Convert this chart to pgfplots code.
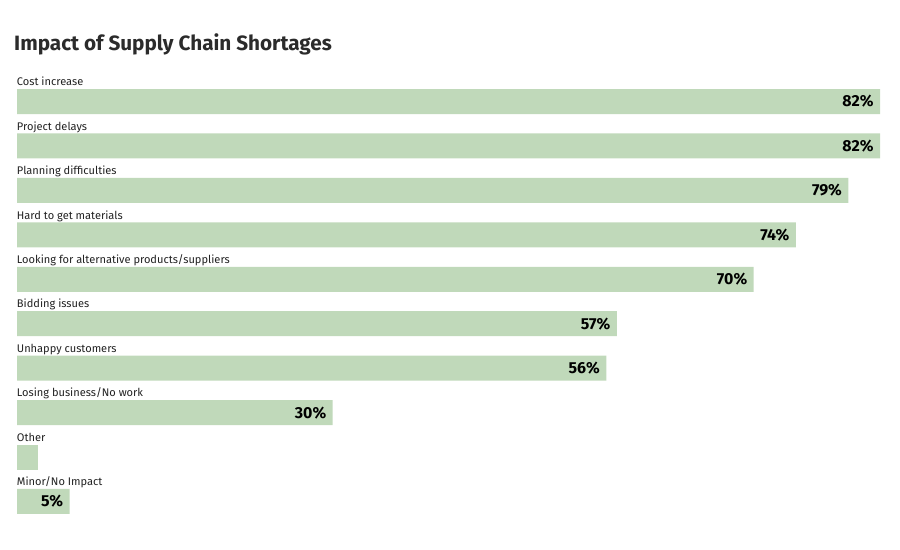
\documentclass[border=0pt]{standalone}
\usepackage{fontspec}
\setmainfont{Fira Sans}
\usepackage{pgfplots}
\pgfplotsset{compat=1.18}
\definecolor{barg}{HTML}{C0D9BA}
\definecolor{txt}{HTML}{222222}
\definecolor{ttl}{HTML}{2B2B2B}
\begin{document}
\begin{tikzpicture}
\path[use as bounding box] (0,0) rectangle (900bp,-550bp);
\node[anchor=base west, inner sep=0, text=ttl, font=\fontsize{20.8}{24}\selectfont\bfseries] at (14bp,-50.5bp) {Impact of Supply Chain Shortages};
\begin{axis}[
  at={(17bp,-523.7bp)}, anchor=south west,
  scale only axis, width=863bp, height=444.4bp,
  xmin=0, xmax=82, ymin=-0.5, ymax=9.5,
  y dir=reverse,
  xbar, bar width=25bp, bar shift=0pt,
  axis line style={draw=none}, tick style={draw=none},
  xtick=\empty,
  ytick={0,...,9},
  yticklabels={Cost increase, Project delays, Planning difficulties, Hard to get materials, Looking for alternative products/suppliers, Bidding issues, Unhappy customers, Losing business/No work, Other, Minor/No Impact},
  yticklabel style={anchor=base west, inner sep=0pt, xshift=4bp, yshift=15.8bp, text=txt, font=\fontsize{11.1}{13}\selectfont},
  clip=false,
  /pgf/number format/assume math mode=true,
  every node near coord/.append style={anchor=east, xshift=-3bp, text=black, font=\fontsize{16}{19}\selectfont\bfseries},
]
\addplot[fill=barg, draw=none, nodes near coords={\pgfmathprintnumber{\pgfplotspointmeta}\%}, point meta=x]
  coordinates {(82,0) (82,1) (79,2) (74,3) (70,4) (57,5) (56,6) (30,7) (5,9)};
\addplot[fill=barg, draw=none] coordinates {(2,8)};
\end{axis}
\end{tikzpicture}
\end{document}
